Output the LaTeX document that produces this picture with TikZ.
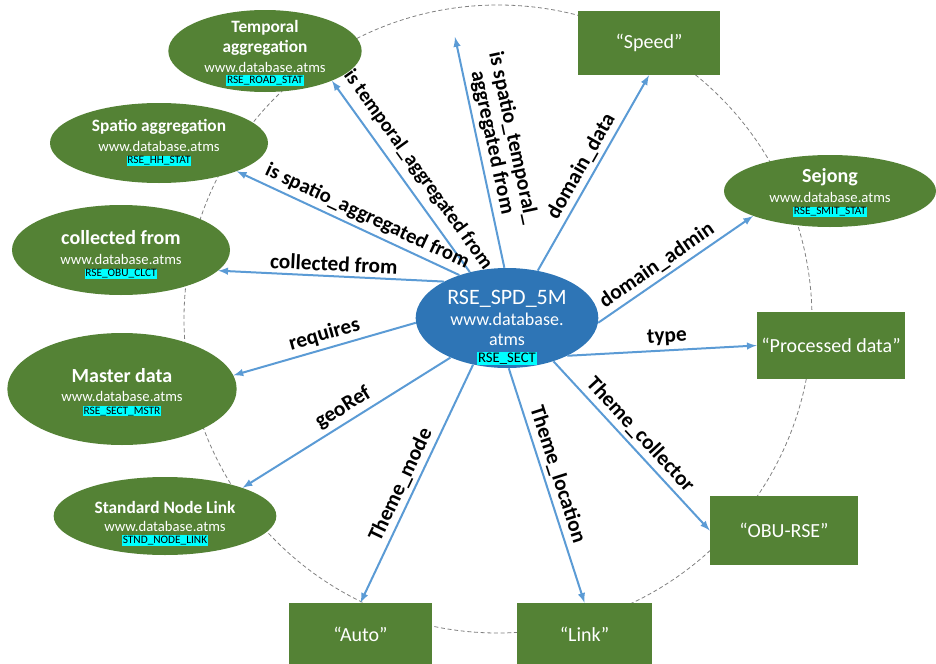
\documentclass[tikz,border=0pt]{standalone}
\usepackage{fontspec}
\setmainfont{Carlito}
\usepackage{tikz}
\usetikzlibrary{positioning}
\usetikzlibrary{arrows, shapes}

\definecolor{leafgreen}{HTML}{548235}
\definecolor{sectblue}{HTML}{2E75B6}
\definecolor{linkblue}{HTML}{5B9BD5}
\definecolor{tagcyan}{HTML}{00FFFF}

\newcommand{\otitle}[2][13]{{\fontsize{#1}{14}\selectfont\bfseries #2}}
\newcommand{\tblcode}[1]{{\fontsize{8.5}{9}\selectfont\setlength{\fboxsep}{0.6pt}\colorbox{tagcyan}{\textcolor{black}{#1}}}}
\newcommand{\padtop}[1]{\rule{0pt}{#1}}

\begin{document}
\begin{tikzpicture}[x=0.75pt,y=-0.75pt]

\tikzset{green oval/.style 2 args={
		ellipse, fill=leafgreen, text=white,
		minimum width=#1, minimum height=#2,
		inner xsep=-10pt, inner ysep=-14pt,
		align=center, font=\fontsize{11}{14.5}\selectfont
	},
	green box/.style 2 args={
		rectangle, fill=leafgreen, text=white,
		minimum width=#1, minimum height=#2,
		font=\fontsize{15}{16}\selectfont
	},
	link arrow/.style={draw=linkblue, line width=1.5pt, -latex},
	link label/.style={sloped, above, inner sep=3pt, text=black,
		align=center, font=\fontsize{16}{16}\selectfont\bfseries}
}

\useasboundingbox (0,0) rectangle (936,664);
\draw[gray, dash pattern=on 3pt off 2pt, line width=0.6pt] (498,319) circle[radius=314];

% centre
\node[ellipse, fill=sectblue, text=white, minimum width=137pt, minimum height=75pt,
	inner xsep=-10pt, inner ysep=-20pt, align=center,
	font=\fontsize{13.5}{15}\selectfont] (sect) at (507,318)
	{\padtop{25pt}{\fontsize{16.5}{17}\selectfont RSE\_SPD\_5M}\\[0.75pt] www.database.\\ atms\\[-2.25pt]
	\tblcode{\fontsize{11}{12}\selectfont RSE\_SECT}};

% ovals
\node[green oval={145pt}{61.5pt}] (temporal) at (265,51)
	{\padtop{12.5pt}\otitle{Temporal}\\[0.5pt] \otitle{aggregation}\\ www.database.atms\\[-6pt] \tblcode{RSE\_ROAD\_STAT}};
\node[green oval={163.5pt}{60pt}] (spatio) at (159,143)
	{\otitle{Spatio aggregation}\\ www.database.atms\\[-5pt] \tblcode{RSE\_HH\_STAT}};
\node[green oval={163.5pt}{67.5pt}] (collect) at (121,250)
	{\padtop{18pt}\otitle[15]{collected from}\\ www.database.atms\\[-5pt] \tblcode{RSE\_OBU\_CLCT}};
\node[green oval={172pt}{84pt}] (master) at (122,389)
	{\padtop{15.5pt}\otitle[15]{Master data}\\ www.database.atms\\[-5pt] \tblcode{RSE\_SECT\_MSTR}};
\node[green oval={167pt}{58.5pt}] (stdlink) at (165,516)
	{\padtop{20pt}\otitle{Standard Node Link}\\[-1pt] www.database.atms\\[-5.5pt] \tblcode{STND\_NODE\_LINK}};
\node[green oval={159pt}{54pt}] (sejong) at (830,191)
	{\padtop{13.5pt}\otitle[15]{Sejong}\\ www.database.atms\\[-5pt] \tblcode{RSE\_SMIT\_STAT}};

% boxes
\node[green box={107pt}{48pt}] (speed) at (649,43) {“Speed”};
\node[green box={111pt}{50pt}] (processed) at (831,345.5) {“Processed data”};
\node[green box={111pt}{52pt}] (obu) at (784,530.5) {“OBU-RSE”};
\node[green box={107pt}{46.5pt}] (auto) at (360.5,634) {“Auto”};
\node[green box={101pt}{46.5pt}] (link) at (584.5,634) {“Link”};

\coordinate (upfree) at (455,37);

\draw[link arrow] (sect.129) -- node[link label, pos=.48, inner sep=6pt, font=\fontsize{15}{16}\selectfont\bfseries] {is temporal\_aggregated from} (temporal.-24);
\draw[link arrow] (sect.93) -- node[link label, pos=.53] {is spatio\_temporal\_\\aggregated from} (upfree);
\draw[link arrow] (sect.57) -- node[link label, pos=.5] {domain\_data} (speed.south);
\draw[link arrow] (sect.-3) -- node[link label, pos=.43] {domain\_admin} (sejong.198);
\draw[link arrow] (sect.-32) -- node[link label, pos=.53] {type} (processed.west);
\draw[link arrow] (sect.-43) -- node[link label, pos=.49] {Theme\_collector} (obu.west);
\draw[link arrow] (sect.-88) -- node[link label, pos=.47] {Theme\_location} (link.north);
\draw[link arrow] (sect.-126) -- node[link label, pos=.53] {Theme\_mode} (auto.north);
\draw[link arrow] (sect.-145) -- node[link label, pos=.48] {geoRef} (stdlink.20);
\draw[link arrow] (sect.183) -- node[link label, pos=.48] {requires} (master.7);
\draw[link arrow] (sect.150) -- node[link label, pos=.49] {collected from} (collect.-12);
\draw[link arrow] (sect.138) -- node[link label, pos=.44, font=\fontsize{15.5}{16}\selectfont\bfseries] {is spatio\_aggregated from} (spatio.-20);

\end{tikzpicture}
\end{document}
